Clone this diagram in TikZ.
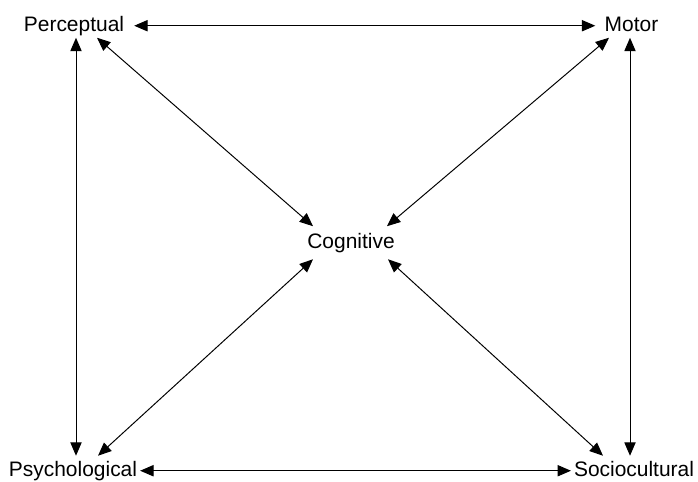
\documentclass[tikz,border=0pt]{standalone}
\usepackage{fontspec}
\setmainfont{Liberation Sans}
\usetikzlibrary{arrows.meta,calc}

\begin{document}
\begin{tikzpicture}[
  x=0.025cm,y=-0.025cm,
  lbl/.style={anchor=base,font=\fontsize{14.9}{18}\selectfont,text height=10.7pt,text depth=3.2pt,inner xsep=2pt,inner ysep=1.4pt},
  arr/.style={{Triangle[length=9.5pt,width=8pt]}-{Triangle[length=9.5pt,width=8pt]},line width=0.7pt}]
  \useasboundingbox (0,0) rectangle (698,481);
  % the five labels
  \node[lbl] (perc) at (74,31) {Perceptual};
  \node[lbl] (motor) at (631.5,31) {Motor};
  \node[lbl,inner ysep=4.6pt] (cog) at (351,248) {Cognitive};
  \node[lbl,inner ysep=3.5pt] (psy) at (73,476) {Psychological};
  \node[lbl,inner ysep=3.5pt] (soc) at (634,476) {Sociocultural};
  % outer frame
  \draw[arr,shorten <=5pt,shorten >=4.5pt] (perc.east) -- (motor.west);
  \draw[arr] (psy.east) -- (soc.west);
  \draw[arr] ($(perc.south)+(2,0)$) -- ($(psy.north)+(3,0)$);
  \draw[arr] ($(motor.south)+(-1.5,0)$) -- ($(soc.north)+(-4,0)$);
  % diagonals to the centre
  \draw[arr] ($(perc.south)+(23,0)$) -- ($(cog.north)+(-38,0)$);
  \draw[arr] ($(motor.south)+(-22.5,0)$) -- ($(cog.north)+(36,0)$);
  \draw[arr] ($(psy.north)+(25,0)$) -- ($(cog.south)+(-38,0)$);
  \draw[arr] ($(soc.north)+(-31,0)$) -- ($(cog.south)+(37,0)$);
\end{tikzpicture}
\end{document}
